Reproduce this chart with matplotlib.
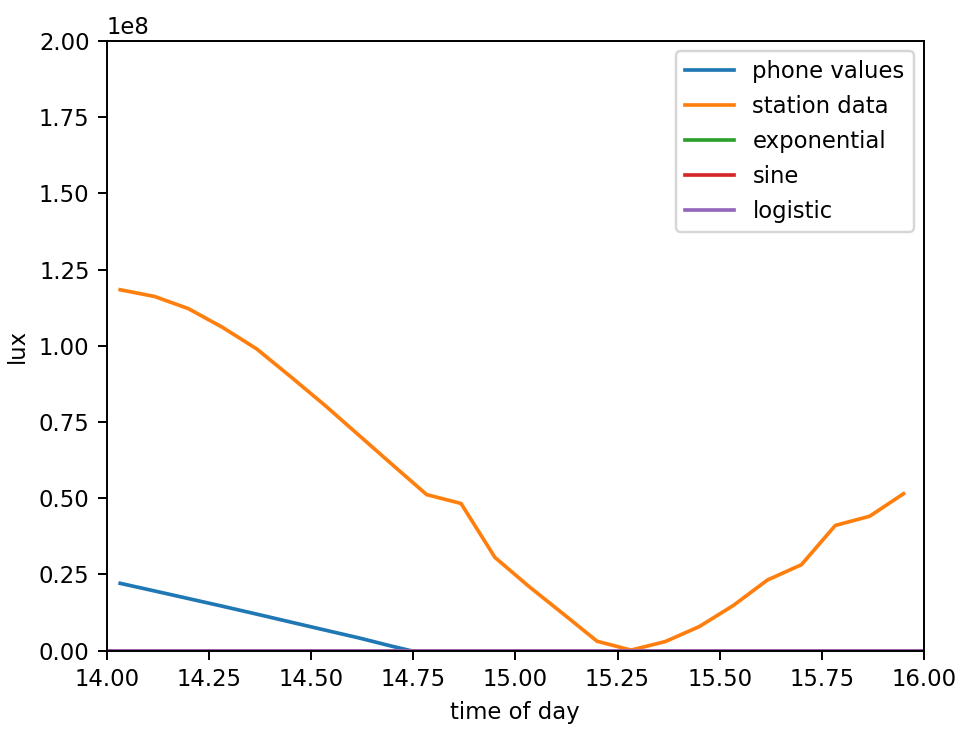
#!/usr/bin/env python3
"""
Light level comparison: phone readings vs station data, with fitted models
"""

import matplotlib
matplotlib.use('Agg')
import matplotlib.pyplot as plt

# time of day in hours (5 minute steps)
hours = [14.033, 14.117, 14.200, 14.283, 14.367, 14.450, 14.533, 14.617,
         14.700, 14.783, 14.867, 14.950, 15.033, 15.117, 15.200, 15.283,
         15.367, 15.450, 15.533, 15.617, 15.700, 15.783, 15.867, 15.950]

# station lux values (units of 1e8)
station = [1.184, 1.162, 1.122, 1.061, 0.990, 0.899, 0.806, 0.707,
           0.609, 0.512, 0.483, 0.306, 0.211, 0.121, 0.031, 0.002,
           0.030, 0.079, 0.148, 0.232, 0.282, 0.411, 0.441, 0.515]

# phone lux values (units of 1e8), only the first part of the run
phone_hours = [14.033, 14.117, 14.200, 14.283, 14.367, 14.450, 14.533,
               14.617, 14.700, 14.783]
phone = [0.221, 0.196, 0.171, 0.146, 0.120, 0.094, 0.068, 0.042, 0.014, -0.012]

# fitted models stay ~0 on this scale
model_hours = [14.0, 16.0]
exponential = [0.0, 0.0]
sine = [0.0, 0.0]
logistic = [0.0, 0.0]

SCALE = 1e8

plt.rcParams['font.size'] = 9.3

DPI = 176
fig = plt.figure(figsize=(980 / DPI, 735 / DPI), dpi=DPI)
ax = fig.add_axes([106.7 / 980, 1 - 650.7 / 735, (924 - 106.7) / 980, (650.7 - 41) / 735])

ax.plot(phone_hours, [v * SCALE for v in phone], label='phone values')
ax.plot(hours, [v * SCALE for v in station], label='station data')
ax.plot(model_hours, [v * SCALE for v in exponential], label='exponential')
ax.plot(model_hours, [v * SCALE for v in sine], label='sine')
ax.plot(model_hours, [v * SCALE for v in logistic], label='logistic')

ax.set_xlim(14, 16)
ax.set_ylim(0, 2e8)
ax.set_xlabel('time of day')
ax.set_ylabel('lux')
ax.legend(loc='upper right', handlelength=2.16, labelspacing=0.52,
          borderaxespad=0.45)

fig.savefig('out.png', dpi=DPI)
